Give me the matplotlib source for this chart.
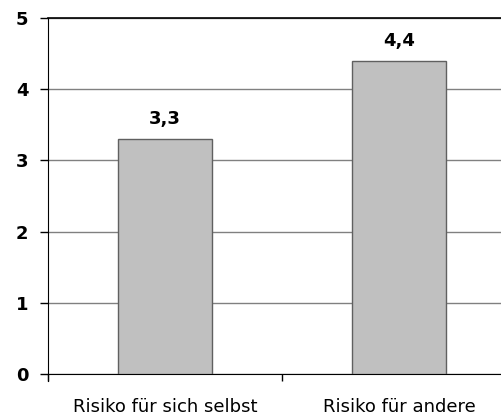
import matplotlib.pyplot as plt

categories = ["Risiko für sich selbst", "Risiko für andere"]
values = [3.3, 4.4]
value_labels = ["3,3", "4,4"]
yticks = [0, 1, 2, 3, 4, 5]

plt.rcParams["font.family"] = "DejaVu Sans"

fig = plt.figure(figsize=(5.02, 4.19), dpi=100)
ax = fig.add_axes([48/502, 45/419, 468/502, 356/419])

x = list(range(len(categories)))
ax.bar(x, values, width=0.4, color="#c0c0c0", edgecolor="#606060", linewidth=1, zorder=3)
for xi, v, lab in zip(x, values, value_labels):
    ax.annotate(lab, (xi, v), xytext=(0, 8), textcoords="offset points",
                ha="center", va="bottom", fontsize=13, fontweight="bold")

ax.set_xlim(-0.5, 1.5)
ax.set_ylim(0, 5)
ax.set_yticks(yticks)
ax.set_yticklabels([str(t) for t in yticks], fontsize=13, fontweight="bold")
ax.tick_params(axis="y", length=6, width=1, pad=8)

ax.set_xticks([-0.5, 0.5, 1.5])
ax.set_xticklabels([])
ax.tick_params(axis="x", which="major", length=5, width=1)
ax.set_xticks(x, minor=True)
ax.set_xticklabels(categories, minor=True, fontsize=13)
ax.tick_params(axis="x", which="minor", length=0, pad=17)

ax.grid(axis="y", color="#808080", linewidth=1, zorder=0)
ax.axhline(5, color="black", linewidth=1.2, zorder=6, clip_on=False)
ax.spines["top"].set_visible(False)
ax.spines["right"].set_visible(False)
ax.spines["left"].set_bounds(-0.1, 5)

fig.savefig("out.png", dpi=100)
